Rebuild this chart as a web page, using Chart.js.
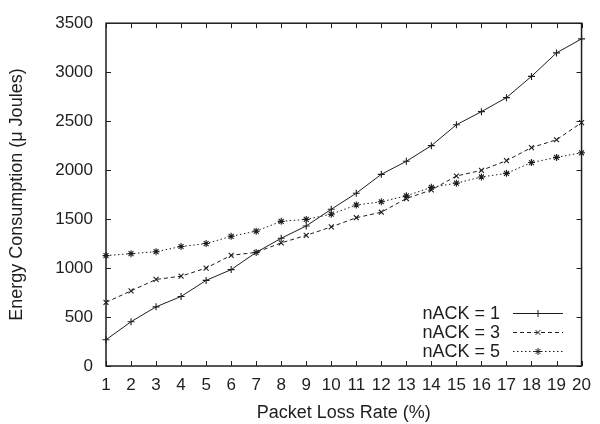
<!DOCTYPE html>
<html>
<head>
<meta charset="utf-8">
<script src="https://cdn.jsdelivr.net/npm/chart.js@4.4.1/dist/chart.umd.min.js"></script>
<style>
  html, body { margin: 0; padding: 0; background: #fff; }
  #wrap { width: 600px; height: 424px; }
</style>
</head>
<body>
<div id="wrap"><canvas id="idCanv_energy" width="600" height="424"></canvas></div>
<script>
const lossRates = ["1", "2", "3", "4", "5", "6", "7", "8", "9", "10", "11", "12", "13", "14", "15", "16", "17", "18", "19", "20"];
const nack1 = [268, 452, 604, 710, 874, 984, 1160, 1304, 1430, 1600, 1764, 1957, 2090, 2250, 2463, 2597, 2740, 2957, 3197, 3340];
const nack3 = [650, 767, 884, 917, 1000, 1130, 1160, 1257, 1334, 1420, 1514, 1570, 1710, 1797, 1940, 1997, 2097, 2230, 2310, 2484];
const nack5 = [1127, 1147, 1167, 1220, 1250, 1324, 1377, 1477, 1497, 1550, 1644, 1677, 1737, 1824, 1867, 1930, 1967, 2077, 2130, 2177];
const seriesLabels = ["nACK = 1", "nACK = 3", "nACK = 5"];

const inkColor = "#1e1e1e";
const fontFamily = "'Liberation Sans', Arial, Helvetica, sans-serif";

function lineSet(label, data, dash, pointStyle) {
  return {
    label,
    data,
    borderColor: inkColor,
    backgroundColor: inkColor,
    borderWidth: 1,
    borderDash: dash,
    pointStyle,
    pointRadius: 3.5,
    pointBorderWidth: 1.1,
    pointBorderColor: inkColor,
    tension: 0,
  };
}

// inward ticks on all four sides, frame, and the gnuplot-like key
const frameAndKey = {
  id: "frameAndKey",
  afterDraw(chart) {
    const { ctx, chartArea: area, scales } = chart;
    const tick = 5;
    ctx.save();
    ctx.strokeStyle = inkColor;
    ctx.lineWidth = 1;
    ctx.beginPath();
    scales.x.ticks.forEach((t, i) => {
      const px = Math.round(scales.x.getPixelForTick(i)) + 0.5;
      ctx.moveTo(px, area.bottom);
      ctx.lineTo(px, area.bottom - tick);
      ctx.moveTo(px, area.top);
      ctx.lineTo(px, area.top + tick);
    });
    scales.y.ticks.forEach((t) => {
      const py = Math.round(scales.y.getPixelForValue(t.value)) + 0.5;
      ctx.moveTo(area.left, py);
      ctx.lineTo(area.left + tick, py);
      ctx.moveTo(area.right, py);
      ctx.lineTo(area.right - tick, py);
    });
    ctx.stroke();
    ctx.lineWidth = 1.5;
    ctx.strokeRect(area.left, area.top, area.right - area.left, area.bottom - area.top);

    // key
    const textRight = 500;
    const sampleLeft = 513;
    const sampleRight = 563;
    const rowY = [313, 332, 351];
    ctx.font = "18px " + fontFamily;
    ctx.fillStyle = inkColor;
    ctx.textAlign = "right";
    ctx.textBaseline = "middle";
    chart.data.datasets.forEach((ds, i) => {
      const y = rowY[i] + 0.5;
      ctx.fillText(ds.label, textRight, rowY[i] + 1);
      ctx.lineWidth = 1;
      ctx.setLineDash(ds.borderDash || []);
      ctx.beginPath();
      ctx.moveTo(sampleLeft, y);
      ctx.lineTo(sampleRight, y);
      ctx.stroke();
      ctx.setLineDash([]);
      Chart.helpers.drawPoint(ctx, { pointStyle: ds.pointStyle, radius: 3.5, borderWidth: 1.1 }, (sampleLeft + sampleRight) / 2, y);
    });
    ctx.restore();
  },
};

const energyChart = new Chart(document.getElementById("idCanv_energy"), {
  type: "line",
  data: {
    labels: lossRates,
    datasets: [
      lineSet(seriesLabels[0], nack1, [], "cross"),
      lineSet(seriesLabels[1], nack3, [4, 3], "crossRot"),
      lineSet(seriesLabels[2], nack5, [1.5, 2.5], "star"),
    ],
  },
  options: {
    responsive: false,
    animation: false,
    devicePixelRatio: 1,
    layout: {
      padding: { left: 0, right: 14, top: 16, bottom: 0 },
    },
    plugins: {
      legend: { display: false },
      tooltip: { enabled: false },
    },
    scales: {
      x: {
        type: "category",
        offset: false,
        grid: { display: false, drawTicks: false },
        border: { display: false },
        ticks: {
          color: inkColor,
          font: { family: fontFamily, size: 17 },
          padding: 9,
          maxRotation: 0,
          autoSkip: false,
        },
        title: {
          display: true,
          text: "Packet Loss Rate (%)",
          color: inkColor,
          font: { family: fontFamily, size: 18 },
          padding: { top: 4, bottom: 0 },
        },
        afterFit(scale) {
          scale.height = 58;
        },
      },
      y: {
        min: 0,
        max: 3500,
        grid: { display: false, drawTicks: false },
        border: { display: false },
        ticks: {
          stepSize: 500,
          color: inkColor,
          font: { family: fontFamily, size: 17 },
          padding: 13,
          callback: (value) => String(value),
        },
        title: {
          display: true,
          text: "Energy Consumption (μ Joules)",
          color: inkColor,
          font: { family: fontFamily, size: 18 },
          padding: { top: 6, bottom: 0 },
        },
        afterFit(scale) {
          scale.width = 106;
        },
      },
    },
  },
  plugins: [frameAndKey],
});
</script>
</body>
</html>
